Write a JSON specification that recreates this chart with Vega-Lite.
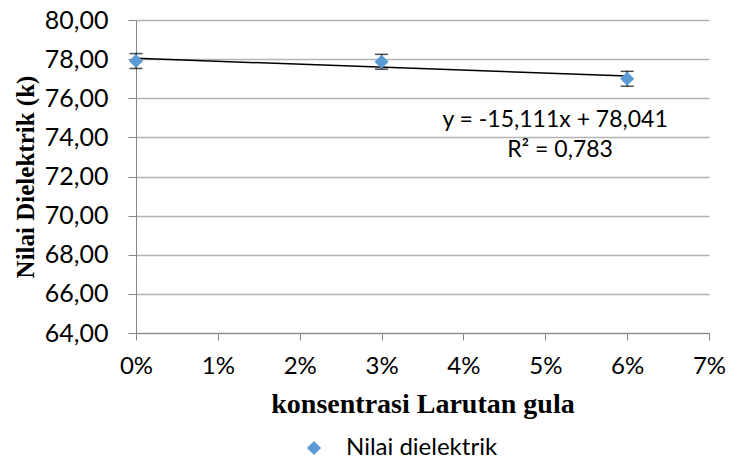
{
  "$schema": "https://vega.github.io/schema/vega-lite/v6.json",
  "width": 573,
  "height": 313,
  "autosize": {"type": "none"},
  "padding": {"left": 136, "top": 20, "right": 20, "bottom": 127},
  "background": "#ffffff",
  "config": {
    "view": {"stroke": null},
    "font": "Lato",
    "axisY": {
      "labelOverlap": false,
      "labelFlush": false,
      "grid": true,
      "gridColor": "#b3b3b3",
      "gridWidth": 1.5,
      "domainColor": "#868686",
      "tickColor": "#868686",
      "tickSize": 8,
      "labelFont": "Lato",
      "labelFontSize": 25,
      "labelColor": "#000000",
      "labelPadding": 20,
      "titleFont": "Liberation Serif",
      "titleFontWeight": "bold",
      "titleFontSize": 25,
      "titleColor": "#000000",
      "titlePadding": 6
    },
    "axisX": {
      "labelOverlap": false,
      "labelFlush": false,
      "grid": false,
      "domainColor": "#868686",
      "tickColor": "#868686",
      "tickSize": 7,
      "labelFont": "Lato",
      "labelFontSize": 24,
      "labelColor": "#000000",
      "labelPadding": 14,
      "titleFont": "Liberation Serif",
      "titleFontWeight": "bold",
      "titleFontSize": 28,
      "titleColor": "#000000",
      "titlePadding": 12
    }
  },
  "datasets": {
    "pts": [
      {"x": 0.00, "y": 77.903, "err": 0.38, "series": "Nilai dielektrik"},
      {"x": 0.03, "y": 77.864, "err": 0.38, "series": "Nilai dielektrik"},
      {"x": 0.06, "y": 76.996, "err": 0.38, "series": "Nilai dielektrik"}
    ],
    "notes": [
      {"x": 0.0512, "y": 74.89, "label": "y = -15,111x + 78,041"},
      {"x": 0.0518, "y": 73.35, "label": "R² = 0,783"}
    ]
  },
  "encoding": {
    "x": {
      "field": "x", "type": "quantitative",
      "scale": {"domain": [0, 0.07], "nice": false, "zero": false},
      "axis": {
        "values": [0, 0.01, 0.02, 0.03, 0.04, 0.05, 0.06, 0.07],
        "format": ".0%",
        "title": "konsentrasi Larutan gula"
      }
    }
  },
  "layer": [
    {
      "data": {"name": "pts"},
      "transform": [
        {"calculate": "datum.y - datum.err", "as": "lo"},
        {"calculate": "datum.y + datum.err", "as": "hi"}
      ],
      "mark": {"type": "rule", "color": "#000000", "strokeWidth": 1.5},
      "encoding": {
        "y": {
          "field": "lo", "type": "quantitative",
          "scale": {"domain": [64, 80], "nice": false, "zero": false},
          "axis": {
            "values": [64, 66, 68, 70, 72, 74, 76, 78, 80],
            "labelExpr": "replace(format(datum.value, '.2f'), '.', ',')",
            "title": "Nilai Dielektrik (k)"
          }
        },
        "y2": {"field": "hi"}
      }
    },
    {
      "data": {"name": "pts"},
      "transform": [{"calculate": "datum.y - datum.err", "as": "lo"}],
      "mark": {"type": "tick", "orient": "horizontal", "color": "#000000", "size": 13, "thickness": 1.5},
      "encoding": {
        "y": {
          "field": "lo", "type": "quantitative",
          "axis": {
            "values": [64, 66, 68, 70, 72, 74, 76, 78, 80],
            "labelExpr": "replace(format(datum.value, '.2f'), '.', ',')",
            "title": "Nilai Dielektrik (k)"
          }
        }
      }
    },
    {
      "data": {"name": "pts"},
      "transform": [{"calculate": "datum.y + datum.err", "as": "hi"}],
      "mark": {"type": "tick", "orient": "horizontal", "color": "#000000", "size": 13, "thickness": 1.5},
      "encoding": {
        "y": {
          "field": "hi", "type": "quantitative",
          "axis": {
            "values": [64, 66, 68, 70, 72, 74, 76, 78, 80],
            "labelExpr": "replace(format(datum.value, '.2f'), '.', ',')",
            "title": "Nilai Dielektrik (k)"
          }
        }
      }
    },
    {
      "data": {"name": "pts"},
      "transform": [{"regression": "y", "on": "x", "extent": [0, 0.06]}],
      "mark": {"type": "line", "color": "#000000", "strokeWidth": 1.5},
      "encoding": {
        "y": {
          "field": "y", "type": "quantitative",
          "axis": {
            "values": [64, 66, 68, 70, 72, 74, 76, 78, 80],
            "labelExpr": "replace(format(datum.value, '.2f'), '.', ',')",
            "title": "Nilai Dielektrik (k)"
          }
        }
      }
    },
    {
      "data": {"name": "pts"},
      "mark": {"type": "point", "shape": "diamond", "filled": true, "opacity": 1, "size": 200},
      "encoding": {
        "y": {
          "field": "y", "type": "quantitative",
          "axis": {
            "values": [64, 66, 68, 70, 72, 74, 76, 78, 80],
            "labelExpr": "replace(format(datum.value, '.2f'), '.', ',')",
            "title": "Nilai Dielektrik (k)"
          }
        },
        "color": {
          "field": "series", "type": "nominal",
          "scale": {"range": ["#5B9BD5"]},
          "legend": {
            "title": null,
            "orient": "none",
            "legendX": 166,
            "legendY": 416,
            "symbolType": "diamond",
            "symbolSize": 200,
            "symbolOpacity": 1,
            "labelFont": "Lato",
            "labelFontSize": 24,
            "labelColor": "#000000",
            "labelOffset": 20,
            "labelLimit": 400
          }
        }
      }
    },
    {
      "data": {"name": "notes"},
      "mark": {"type": "text", "font": "Lato", "fontSize": 23, "color": "#000000", "align": "center", "baseline": "middle"},
      "encoding": {
        "y": {
          "field": "y", "type": "quantitative",
          "axis": {
            "values": [64, 66, 68, 70, 72, 74, 76, 78, 80],
            "labelExpr": "replace(format(datum.value, '.2f'), '.', ',')",
            "title": "Nilai Dielektrik (k)"
          }
        },
        "text": {"field": "label"}
      }
    }
  ]
}
